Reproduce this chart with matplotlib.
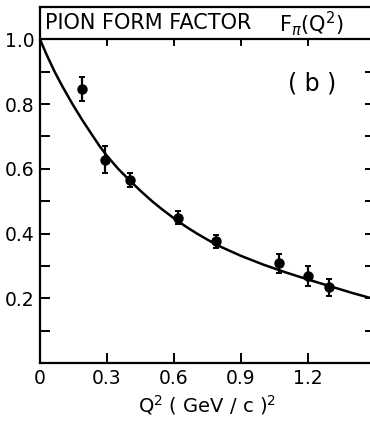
import numpy as np
import matplotlib
matplotlib.use("Agg")
import matplotlib.pyplot as plt
from matplotlib.ticker import MultipleLocator

# measured points: Q^2 (GeV/c)^2, F_pi, error
q2_data = [0.19, 0.29, 0.405, 0.62, 0.79, 1.07, 1.20, 1.295]
f_data = [0.846, 0.628, 0.566, 0.449, 0.376, 0.308, 0.268, 0.234]
f_err = [0.037, 0.042, 0.021, 0.02, 0.02, 0.03, 0.031, 0.026]

# fit curve
q2_fit = [0.0, 0.03, 0.067, 0.10, 0.148, 0.19, 0.233, 0.269, 0.30, 0.35, 0.40,
          0.45, 0.50, 0.55, 0.60, 0.65, 0.70, 0.75, 0.80, 0.90, 1.00, 1.10,
          1.20, 1.30, 1.40, 1.50]
f_fit = [1.0, 0.952, 0.898, 0.855, 0.797, 0.750, 0.705, 0.668, 0.640, 0.600, 0.565,
         0.532, 0.501, 0.473, 0.447, 0.423, 0.401, 0.381, 0.362, 0.331, 0.304, 0.280,
         0.258, 0.237, 0.216, 0.197]

FS = 13.5
fig = plt.figure(figsize=(3.7, 4.24), dpi=100)
ax = fig.add_axes([40 / 370, 61 / 424, 335 / 370, 356 / 424])

ax.plot(q2_fit, f_fit, color="black", lw=1.8)
ax.errorbar(q2_data, f_data, yerr=f_err, fmt="o", color="black", ms=6.5,
            elinewidth=1.6, capsize=2.5, capthick=1.4)

ax.set_xlim(0, 1.5)
ax.set_ylim(0, 1.1)
ax.axhline(1.0, color="black", lw=1.6)
for x in [0.3, 0.6, 0.9, 1.2]:
    ax.plot([x, x], [1.0, 0.982], color="black", lw=1.4)

ax.spines["right"].set_visible(False)
for s in ["left", "bottom", "top"]:
    ax.spines[s].set_linewidth(1.6)

ax.set_xticks([0, 0.3, 0.6, 0.9, 1.2])
ax.set_xticklabels(["0", "0.3", "0.6", "0.9", "1.2"])
ax.set_yticks([0.2, 0.4, 0.6, 0.8, 1.0])
ax.set_yticklabels(["0.2", "0.4", "0.6", "0.8", "1.0"])
ax.yaxis.set_minor_locator(MultipleLocator(0.1))
ax.tick_params(axis="both", direction="in", length=7, width=1.4,
               labelsize=FS, pad=4)
ax.tick_params(axis="y", which="minor", direction="in", length=7, width=1.4)
ax.tick_params(axis="y", which="both", right=True)

ax.text(0.022, 1.05, "PION FORM FACTOR", fontsize=15, va="center", ha="left")
ax.text(1.07, 1.05, "F$_{\\pi}$(Q$^2$)", fontsize=15, va="center", ha="left")
ax.text(1.22, 0.865, "( b )", fontsize=17, ha="center", va="center")
ax.set_xlabel(r"Q$^2$ ( GeV / c )$^2$", fontsize=14, labelpad=4)

fig.savefig("out.png", dpi=100)
